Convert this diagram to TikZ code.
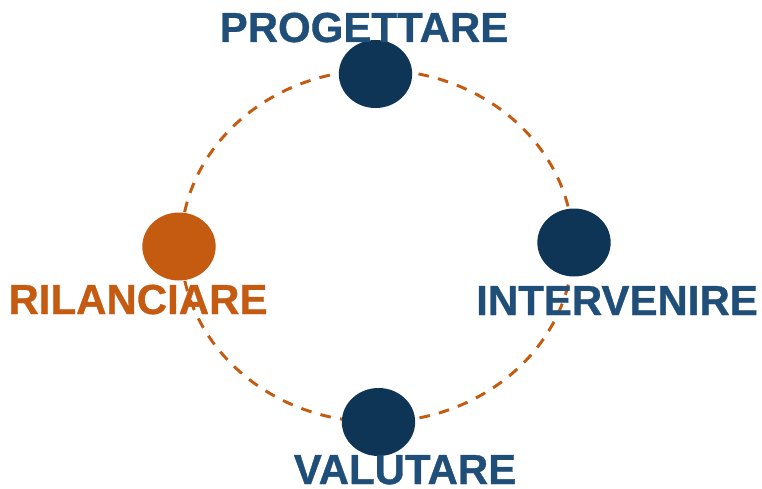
\documentclass[tikz,border=0pt]{standalone}
\usepackage{fontspec}
\setmainfont{Liberation Sans}
\newfontfamily\heavyfont{Liberation Sans}[BoldFeatures={FakeBold=0.8}]
\usetikzlibrary{shapes.geometric}
\definecolor{navy}{HTML}{0F3556}
\definecolor{txtblue}{HTML}{1F4E79}
\definecolor{orng}{HTML}{C55A11}
\tikzset{
  dot/.style={ellipse, fill=navy, draw=none, inner sep=0pt, minimum width=55pt, minimum height=51pt},
  odot/.style={dot, fill=orng},
  lbl/.style={anchor=base, inner sep=0pt, font=\heavyfont\fontsize{31.5pt}{31.5pt}\selectfont\bfseries, text=txtblue},
  olbl/.style={lbl, text=orng},
  ring/.style={draw=orng, line width=2.2pt, dash pattern=on 8pt off 7pt}
}
\begin{document}
\begin{tikzpicture}[x=0.75pt, y=-0.75pt]
\useasboundingbox (0,0) rectangle (762,488);
\coordinate (c) at (377,246);
\draw[ring] (c) ellipse [x radius=147pt, y radius=132pt];
\node[dot]  (top)    at (375.5,74)  {};
\node[dot]  (right)  at (574,242.5) {};
\node[dot]  (bottom) at (378.5,422) {};
\node[odot] (left)   at (179,246.5) {};
\node[lbl]  (ltop)    at (364,42)  {PROGETTARE};
\node[lbl]  (lright)  at (617,315) {INTERVENIRE};
\node[lbl]  (lbottom) at (405,484) {VALUTARE};
\node[olbl] (lleft)   at (138,314) {RILANCIARE};
\end{tikzpicture}
\end{document}
